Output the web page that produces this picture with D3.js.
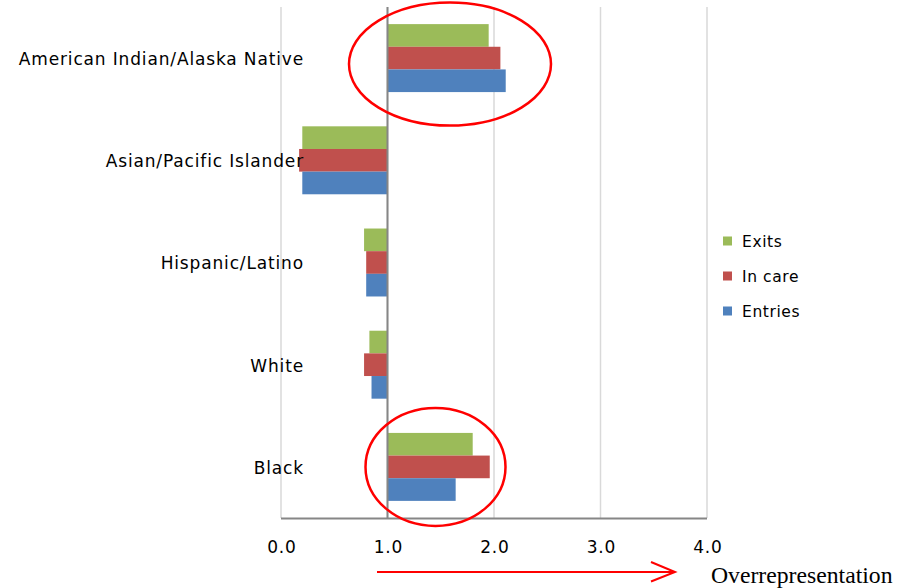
<!DOCTYPE html>
<html><head><meta charset="utf-8">
<script src="https://cdn.jsdelivr.net/npm/d3@7/dist/d3.min.js"></script>
<style>body{margin:0;background:#fff}svg{display:block}</style>
</head><body>
<script>
const categories = ["American Indian/Alaska Native","Asian/Pacific Islander","Hispanic/Latino","White","Black"];
const seriesNames = ["Exits","In care","Entries"];
const exits   = [1.95, 0.20, 0.78, 0.83, 1.80];
const inCare  = [2.06, 0.17, 0.80, 0.78, 1.96];
const entries = [2.11, 0.20, 0.80, 0.85, 1.64];
const tickValues = [0,1,2,3,4];
const colors = ["#9BBB59","#C0504D","#4F81BD"];

const W=911,H=588;
const font = "'DejaVu Sans', Verdana, sans-serif";
const svg = d3.select("body").append("svg").attr("width",W).attr("height",H);

const x = d3.scaleLinear().domain([0,4]).range([281,707]);
const y = d3.scaleBand().domain(categories).range([7,518]).paddingInner(0.335).paddingOuter(0.1675);
const sub = d3.scaleBand().domain(seriesNames).range([0,y.bandwidth()]);
const values = [exits,inCare,entries];

// gridlines
svg.append("g").selectAll("line").data(tickValues).join("line")
  .attr("x1",d=>x(d)).attr("x2",d=>x(d)).attr("y1",7).attr("y2",518)
  .attr("stroke","#d9d9d9").attr("stroke-width",1.5);

// bars
categories.forEach((c,i)=>{
  seriesNames.forEach((s,j)=>{
    const v = values[j][i];
    svg.append("rect")
      .attr("x", Math.min(x(1),x(v)))
      .attr("width", Math.abs(x(v)-x(1)))
      .attr("y", y(c)+sub(s))
      .attr("height", sub.bandwidth())
      .attr("fill", colors[j]);
  });
});

// axes lines
svg.append("line").attr("x1",x(1)).attr("x2",x(1)).attr("y1",7).attr("y2",519)
  .attr("stroke","#868686").attr("stroke-width",2);
svg.append("line").attr("x1",x(0)).attr("x2",x(4)).attr("y1",518.5).attr("y2",518.5)
  .attr("stroke","#868686").attr("stroke-width",2);

// x tick labels
const xAxis = d3.axisBottom(x).tickValues(tickValues).tickFormat(d3.format(".1f")).tickSize(0).tickPadding(0);
const gx = svg.append("g").attr("transform","translate(0.5,541)").call(xAxis);
gx.select(".domain").remove();
gx.selectAll("text").attr("font-family",font).attr("font-size",17).attr("letter-spacing",0.85)
  .attr("fill","#000").attr("dy","0.71em");

// category labels
svg.append("g").selectAll("text").data(categories).join("text")
  .attr("x",304).attr("y",d=>y(d)+y.bandwidth()/2+1).attr("dy","0.35em")
  .attr("text-anchor","end").attr("font-family",font).attr("font-size",17).attr("letter-spacing",0.85)
  .attr("fill","#000").text(d=>d);

// legend
const lg = svg.append("g");
seriesNames.forEach((s,j)=>{
  const cy = 241.5 + j*35;
  lg.append("rect").attr("x",723).attr("y",cy-5).attr("width",9).attr("height",9).attr("fill",colors[j]);
  lg.append("text").attr("x",742).attr("y",cy).attr("dy","0.35em")
    .attr("font-family",font).attr("font-size",15.5).attr("letter-spacing",0.6)
    .attr("fill","#000").text(s);
});

// ellipses
const ell = [
  {c:"American Indian/Alaska Native", cx:450, dy:6, rx:101, ry:61.5},
  {c:"Black", cx:435.5, dy:0, rx:70, ry:59}
];
ell.forEach(e=>{
  svg.append("ellipse").attr("cx",e.cx).attr("cy",y(e.c)+y.bandwidth()/2+e.dy)
    .attr("rx",e.rx).attr("ry",e.ry).attr("fill","none").attr("stroke","#ff0000").attr("stroke-width",2.5);
});

// arrow
svg.append("line").attr("x1",377).attr("x2",675).attr("y1",572).attr("y2",572).attr("stroke","#ff0000").attr("stroke-width",2);
svg.append("path").attr("d","M651,562 L675,572 L651,581.5").attr("fill","none").attr("stroke","#ff0000").attr("stroke-width",2);
svg.append("text").attr("x",711).attr("y",582.5).attr("font-family","'Liberation Serif','Times New Roman',serif")
  .attr("font-size",23.7).attr("fill","#000").text("Overrepresentation");
</script>
</body></html>
